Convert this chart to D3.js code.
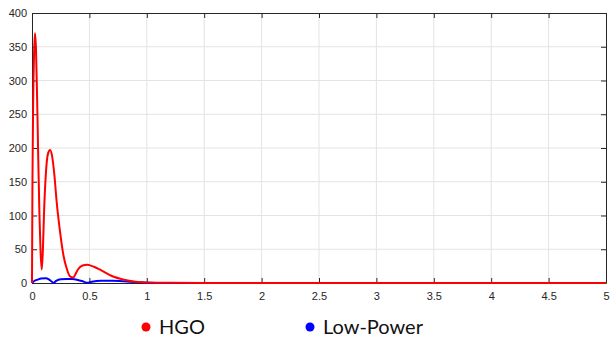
<!DOCTYPE html>
<html>
<head>
<meta charset="utf-8">
<script src="https://cdn.jsdelivr.net/npm/d3@7"></script>
<style>
  body { margin: 0; background: #fff; }
  svg { display: block; }
  .tick text { font-family: "Liberation Sans", Arial, sans-serif; font-size: 11px; fill: #262626; }
  .legend text { font-family: Lato, "Open Sans", sans-serif; font-size: 20px; fill: #111; }
</style>
</head>
<body>
<div id="chart"></div>
<script>
// values
const hgoX = [0, 0.004, 0.01, 0.018, 0.026, 0.035, 0.045, 0.055, 0.065, 0.075, 0.085, 0.095, 0.105, 0.12, 0.14, 0.158, 0.175, 0.195, 0.215, 0.245, 0.275, 0.305, 0.33, 0.36, 0.375, 0.4, 0.44, 0.48, 0.54, 0.6, 0.7, 0.8, 0.9, 1.0, 1.2, 1.5, 5];
const hgoY = [0, 150, 265, 340, 370, 345, 270, 180, 100, 45, 20, 50, 105, 160, 192, 197, 188, 160, 120, 75, 40, 20, 10, 8, 12, 20, 26, 27, 24, 19, 10, 5, 2, 0.7, 0.2, 0, 0];

const lpX = [0, 0.02, 0.05, 0.08, 0.12, 0.15, 0.18, 0.19, 0.21, 0.25, 0.3, 0.35, 0.4, 0.45, 0.48, 0.52, 0.6, 0.7, 0.8, 0.9, 1.0, 1.2, 5];
const lpY = [0, 3, 5, 6.5, 7, 5, 1, 0.5, 3, 5.5, 6, 6, 4.5, 2, 0.5, 2, 3.5, 3.5, 2.5, 1.5, 0.5, 0.1, 0];

const xTicks = [0, 0.5, 1, 1.5, 2, 2.5, 3, 3.5, 4, 4.5, 5];
const yTicks = [0, 50, 100, 150, 200, 250, 300, 350, 400];

const seriesNames = ["HGO", "Low-Power"];
const seriesColors = ["#ff0000", "#0000ff"];

const W = 610, H = 337;
const margin = { top: 13, right: 4, bottom: 54, left: 32 };
const w = W - margin.left - margin.right,
      h = H - margin.top - margin.bottom;

const svg = d3.select("#chart").append("svg")
    .attr("width", W)
    .attr("height", H);

const g = svg.append("g")
    .attr("transform", `translate(${margin.left},${margin.top})`);

const x = d3.scaleLinear().domain([0, 5]).range([0, w]);
const y = d3.scaleLinear().domain([0, 400]).range([h, 0]);

// grid
g.append("g").selectAll("line")
  .data(xTicks.slice(1, -1))
  .enter().append("line")
    .attr("x1", d => x(d)).attr("x2", d => x(d))
    .attr("y1", 0).attr("y2", h)
    .attr("stroke", "#e3e3e3");

g.append("g").selectAll("line")
  .data(yTicks.slice(1, -1))
  .enter().append("line")
    .attr("y1", d => y(d)).attr("y2", d => y(d))
    .attr("x1", 0).attr("x2", w)
    .attr("stroke", "#e3e3e3");

// axes, ticks pointing inward
g.append("g")
    .attr("transform", `translate(0,${h})`)
    .call(d3.axisBottom(x).tickValues(xTicks).tickFormat(d3.format("")).tickSizeInner(-5).tickSizeOuter(0).tickPadding(9));

g.append("g")
    .call(d3.axisLeft(y).tickValues(yTicks).tickSizeInner(-5).tickSizeOuter(0).tickPadding(5));

g.append("g")
    .call(d3.axisTop(x).tickValues(xTicks).tickFormat("").tickSizeInner(-5).tickSizeOuter(0));
g.append("g")
    .attr("transform", `translate(${w},0)`)
    .call(d3.axisRight(y).tickValues(yTicks).tickFormat("").tickSizeInner(-5).tickSizeOuter(0));

g.selectAll(".domain").attr("stroke", "#262626");
g.selectAll(".tick line").attr("stroke", "#262626");

// lines
const line = d3.line()
    .x(d => x(d[0]))
    .y(d => y(d[1]))
    .curve(d3.curveMonotoneX);

const series = [d3.zip(hgoX, hgoY), d3.zip(lpX, lpY)];

// blue first so red sits on top
g.selectAll(".series")
  .data([1, 0])
  .enter().append("path")
    .attr("class", "series")
    .attr("fill", "none")
    .attr("stroke", i => seriesColors[i])
    .attr("stroke-width", 2)
    .attr("d", i => line(series[i]));

// legend
const legendX = [146, 310];
const legend = svg.append("g").attr("class", "legend");
const items = legend.selectAll("g")
  .data(seriesNames)
  .enter().append("g")
    .attr("transform", (d, i) => `translate(${legendX[i]},327)`);

items.append("circle")
    .attr("r", 4.5)
    .attr("fill", (d, i) => seriesColors[i]);

items.append("text")
    .attr("x", 13)
    .attr("y", 7)
    .text(d => d);
</script>
</body>
</html>
